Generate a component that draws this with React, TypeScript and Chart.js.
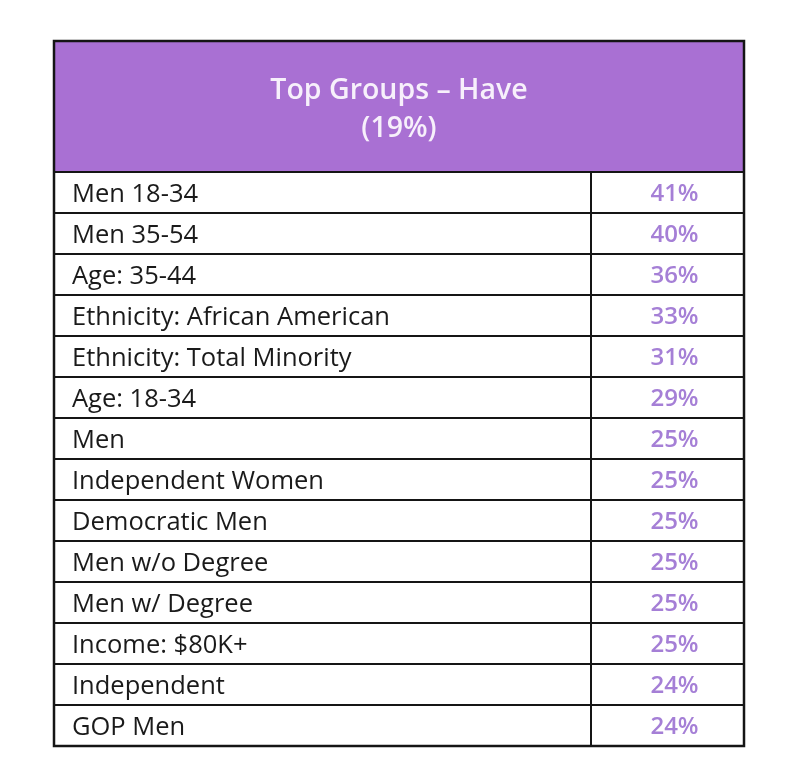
import React, { useEffect, useRef } from "react";
import { Chart, registerables } from "chart.js";

Chart.register(...registerables);

const titleLines = ["Top Groups – Have", "(19%)"];
const groups = [
  "Men 18-34",
  "Men 35-54",
  "Age: 35-44",
  "Ethnicity: African American",
  "Ethnicity: Total Minority",
  "Age: 18-34",
  "Men",
  "Independent Women",
  "Democratic Men",
  "Men w/o Degree",
  "Men w/ Degree",
  "Income: $80K+",
  "Independent",
  "GOP Men",
];
const haveValues = [41, 40, 36, 33, 31, 29, 25, 25, 25, 25, 25, 25, 24, 24];

const FONT = "'Open Sans', Lato, sans-serif";
const HEADER_BG = "#a970d3";
const VALUE_COLOR = "#a57fd6";
const LINE = "#151515";

export default function App() {
  const ref = useRef<HTMLCanvasElement>(null);
  useEffect(() => {
    const canvas = ref.current!;
    const tableLeft = 46;
    const tableTop = 33;

    const tablePlugin = {
      id: "tablePlugin",
      beforeDraw(chart: any) {
        const { ctx, chartArea } = chart;
        ctx.save();
        ctx.fillStyle = "#ffffff";
        ctx.fillRect(tableLeft, tableTop, chartArea.right - tableLeft, chartArea.bottom - tableTop);
        ctx.fillStyle = HEADER_BG;
        ctx.fillRect(tableLeft, tableTop, chartArea.right - tableLeft, chartArea.top - tableTop);
        ctx.fillStyle = "#f7f0fb";
        ctx.font = `600 28.5px ${FONT}`;
        ctx.textAlign = "center";
        ctx.textBaseline = "middle";
        const cx = (tableLeft + chartArea.right) / 2;
        ctx.fillText(titleLines[0], cx, 83);
        ctx.fillText(titleLines[1], cx, 121);
        ctx.restore();
      },
      afterDatasetsDraw(chart: any) {
        const { ctx, chartArea } = chart;
        const meta = chart.getDatasetMeta(0);
        ctx.save();
        ctx.fillStyle = VALUE_COLOR;
        ctx.font = `600 24px ${FONT}`;
        ctx.textAlign = "center";
        ctx.textBaseline = "middle";
        const cx = (chartArea.left + chartArea.right) / 2 + 7;
        meta.data.forEach((el: any, i: number) => {
          ctx.fillText(`${haveValues[i]}%`, cx, el.y + 2);
        });
        ctx.restore();
      },
      afterDraw(chart: any) {
        const { ctx, chartArea } = chart;
        const yScale = chart.scales.y;
        ctx.save();
        ctx.strokeStyle = LINE;
        ctx.lineWidth = 2;
        ctx.beginPath();
        for (let i = 0; i <= groups.length; i++) {
          const y = Math.round(yScale.getPixelForValue(i - 0.5));
          ctx.moveTo(tableLeft, y);
          ctx.lineTo(chartArea.right, y);
        }
        ctx.moveTo(chartArea.left, chartArea.top);
        ctx.lineTo(chartArea.left, chartArea.bottom);
        ctx.stroke();
        ctx.lineWidth = 2.5;
        ctx.strokeRect(tableLeft, tableTop, chartArea.right - tableLeft, chartArea.bottom - tableTop);
        ctx.restore();
      },
    };

    const chart = new Chart(canvas, {
      type: "bar",
      data: {
        labels: groups,
        datasets: [
          {
            data: haveValues,
            backgroundColor: "rgba(0,0,0,0)",
            borderWidth: 0,
          },
        ],
      },
      options: {
        animation: false,
        responsive: false,
        indexAxis: "y",
        layout: { padding: { left: 64, right: 52, top: 164, bottom: 24 } },
        plugins: {
          legend: { display: false },
          tooltip: { enabled: false },
          title: { display: false },
        },
        scales: {
          x: { display: false, min: 0, max: 100 },
          y: {
            type: "category",
            offset: true,
            grid: { display: false },
            border: { display: false },
            ticks: {
              crossAlign: "far",
              color: "#1a1a1a",
              font: { family: FONT, size: 25.5 },
              padding: 0,
              labelOffset: 2,
              autoSkip: false,
            },
            afterFit(scale: any) {
              scale.width = 519;
            },
          },
        },
      },
      plugins: [tablePlugin],
    } as any);
    return () => chart.destroy();
  }, []);
  return <canvas ref={ref} width={788} height={762} style={{ display: "block" }} />;
}
